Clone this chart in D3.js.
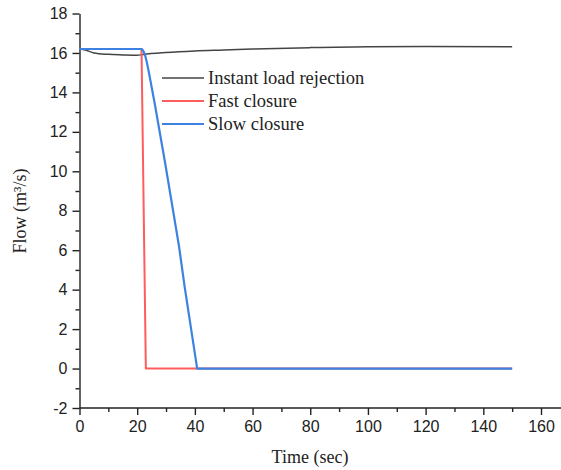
<!DOCTYPE html>
<html>
<head>
<meta charset="utf-8">
<script src="https://cdn.jsdelivr.net/npm/d3@7"></script>
<style>
  body { margin: 0; background: #fff; }
  svg { display: block; }
  .tick text { font-family: "Liberation Sans", Arial, sans-serif; font-size: 16px; fill: #222; }
  .domain, .tick line { stroke: #222; stroke-width: 1.4; }
  .serif { font-family: "Liberation Serif", "Times New Roman", serif; fill: #222; }
</style>
</head>
<body>
<div id="chart"></div>
<script>
// series data
var instantT = [0, 2, 5, 10, 15, 20, 22, 30, 40, 50, 60, 80, 100, 120, 150];
var instantQ = [16.2, 16.15, 16.0, 15.93, 15.9, 15.88, 15.92, 16.02, 16.1, 16.15, 16.2, 16.27, 16.32, 16.33, 16.32];

var fastT = [0, 21.5, 23.0, 150];
var fastQ = [16.2, 16.2, 0, 0];

var slowT = [0, 21.3, 21.8, 22.3, 22.8, 23.3, 23.8, 24.4, 25.1, 26, 29.6, 34.5, 36.5, 40.8, 150];
var slowQ = [16.2, 16.2, 16.17, 16.05, 15.85, 15.55, 15.2, 14.75, 14.2, 13.5, 10.5, 6.2, 4.1, 0, 0];

var seriesNames = ["Instant load rejection", "Fast closure", "Slow closure"];
var seriesColors = ["#444444", "#ff5c5c", "#3d82e3"];

var xTicks = [0, 20, 40, 60, 80, 100, 120, 140, 160];
var yTicks = [-2, 0, 2, 4, 6, 8, 10, 12, 14, 16, 18];

var width = 561, height = 470;
var svg = d3.select("#chart").append("svg")
    .attr("width", width)
    .attr("height", height);

var x = d3.scaleLinear().domain([0, 160]).range([79.5, 541]);
var y = d3.scaleLinear().domain([-2, 18]).range([408, 13.5]);

// plain hyphen for negatives, like the original
var fmt = function(d) { return String(d); };

// minor ticks first
svg.append("g")
    .attr("transform", "translate(0,408)")
    .call(d3.axisBottom(x).tickValues(d3.range(10, 170, 20)).tickSize(4).tickFormat(""))
    .call(g => g.select(".domain").remove());
svg.append("g")
    .attr("transform", "translate(79.5,0)")
    .call(d3.axisLeft(y).tickValues(d3.range(-1, 18, 2)).tickSize(4).tickFormat(""))
    .call(g => g.select(".domain").remove());

// major axes
var xAxis = svg.append("g")
    .attr("transform", "translate(0,408)")
    .call(d3.axisBottom(x).tickValues(xTicks).tickFormat(fmt).tickSize(7).tickSizeOuter(0).tickPadding(6));
xAxis.select(".domain").attr("d", "M79.5,0H561");

var yAxis = svg.append("g")
    .attr("transform", "translate(79.5,0)")
    .call(d3.axisLeft(y).tickValues(yTicks).tickFormat(fmt).tickSize(7).tickSizeOuter(0).tickPadding(5));

var smooth = d3.line()
    .curve(d3.curveMonotoneX)
    .x(d => x(d[0]))
    .y(d => y(d[1]));
var straight = d3.line()
    .x(d => x(d[0]))
    .y(d => y(d[1]));

var allT = [instantT, fastT, slowT];
var allQ = [instantQ, fastQ, slowQ];
var widths = [1.5, 2, 2.2];

allT.forEach(function(t, i) {
    var pts = d3.zip(t, allQ[i]);
    svg.append("path")
        .attr("fill", "none")
        .attr("stroke", seriesColors[i])
        .attr("stroke-width", widths[i])
        .attr("stroke-linejoin", "round")
        .attr("d", i == 0 ? smooth(pts) : straight(pts));
});

// legend
var legend = svg.append("g");
seriesNames.forEach(function(name, i) {
    var ly = 78 + i * 23;
    legend.append("line")
        .attr("x1", 162).attr("x2", 204)
        .attr("y1", ly).attr("y2", ly)
        .attr("stroke", seriesColors[i])
        .attr("stroke-width", widths[i]);
    legend.append("text")
        .attr("class", "serif")
        .attr("x", 208).attr("y", ly + 6)
        .style("font-size", "18.5px")
        .text(name);
});

// axis titles
svg.append("text")
    .attr("class", "serif")
    .attr("x", 310).attr("y", 463)
    .attr("text-anchor", "middle")
    .style("font-size", "18px")
    .text("Time (sec)");

svg.append("text")
    .attr("class", "serif")
    .attr("transform", "translate(26,211) rotate(-90)")
    .attr("text-anchor", "middle")
    .style("font-size", "18px")
    .text("Flow (m³/s)");
</script>
</body>
</html>
